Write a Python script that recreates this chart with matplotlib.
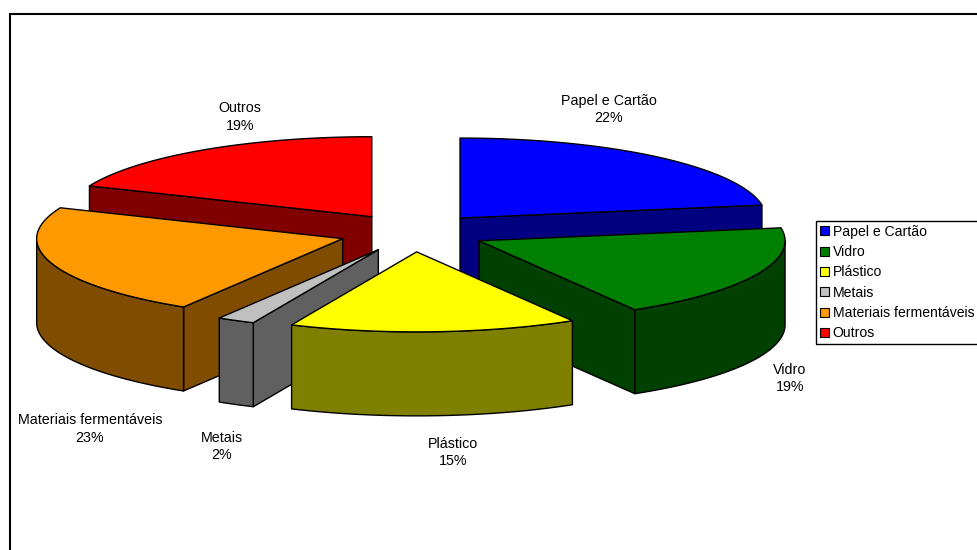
import numpy as np
import matplotlib
matplotlib.use("Agg")
import matplotlib.pyplot as plt
from matplotlib.patches import Polygon, Patch

plt.rcParams['font.family'] = ['Liberation Sans', 'DejaVu Sans']

# --- data ---
categories = ["Papel e Cartão", "Vidro", "Plástico", "Metais", "Materiais fermentáveis", "Outros"]
shares = [22.4, 19.1, 15.2, 2.0, 22.6, 18.7]
pct_labels = ["22%", "19%", "15%", "2%", "23%", "19%"]

# --- styles ---
top_colors = ["#0000FF", "#008000", "#FFFF00", "#C0C0C0", "#FF9900", "#FF0000"]
side_colors = ["#000080", "#004000", "#808000", "#606060", "#804C00", "#800000"]
draw_order = [5, 0, 4, 1, 3, 2]  # back to front
label_pos = [(609, 109.5), (790, 378.5), (453, 452.5), (222, 446.5), (90, 429), (240, 117)]

# --- pie geometry in pixels ---
CX, CY = 412.5, 232.7
RX, RY = 306, 80
DEPTH = 84
EXPLODE = 0.24
FONT = 10.3
LEGEND_FONT = 10.1


def rim(apex, deg):
    # point(s) on the slice rim, angle clockwise from 12 o'clock
    t = np.radians(deg)
    return np.column_stack([apex[0] + RX * np.sin(t), apex[1] - RY * np.cos(t)])


def draw_slice(ax, a, b, top, side):
    mid = np.radians((a + b) / 2)
    apex = np.array([CX + EXPLODE * RX * np.sin(mid), CY - EXPLODE * RY * np.cos(mid)])
    drop = np.array([0, DEPTH])
    kw = dict(edgecolor="black", linewidth=1.0, joinstyle="round")

    # radial walls, only the ones turned towards the viewer
    for ang, normal in ((a, a - 90), (b, b + 90)):
        if np.cos(np.radians(normal)) < -1e-6:
            p = rim(apex, ang)[0]
            ax.add_patch(Polygon([apex, p, p + drop, apex + drop], facecolor=side, **kw))

    # outer wall, front half of the pie only
    lo, hi = max(a, 90), min(b, 270)
    if hi > lo:
        arc = rim(apex, np.linspace(lo, hi, 80))
        ax.add_patch(Polygon(np.vstack([arc, (arc + drop)[::-1]]), facecolor=side, **kw))

    arc = rim(apex, np.linspace(a, b, 80))
    ax.add_patch(Polygon(np.vstack([apex, arc]), facecolor=top, **kw))


fig = plt.figure(figsize=(9.77, 5.5), dpi=100)
ax = fig.add_axes([0, 0, 1, 1])
ax.set_xlim(0, 977)
ax.set_ylim(550, 0)
ax.axis("off")

# outer chart frame, runs off the right and the bottom
ax.plot([9.5, 9.5, 977], [550, 14, 14], color="black", linewidth=1.5, solid_joinstyle="miter")

edges = np.concatenate([[0], np.cumsum(shares)]) / sum(shares) * 360
for i in draw_order:
    draw_slice(ax, edges[i], edges[i + 1], top_colors[i], side_colors[i])

for name, pct, (x, y) in zip(categories, pct_labels, label_pos):
    ax.text(x, y, f"{name}\n{pct}", ha="center", va="center", fontsize=FONT,
            color="black", linespacing=1.35)

handles = [Patch(facecolor=c, edgecolor="black", linewidth=0.8) for c in top_colors]
ax.legend(handles, categories, loc="upper left", bbox_to_anchor=(816, 221),
          bbox_transform=ax.transData, borderaxespad=0, fontsize=LEGEND_FONT,
          fancybox=False, framealpha=1, edgecolor="black", handlelength=0.63,
          handleheight=0.63, handletextpad=0.3, labelspacing=0.45, borderpad=0.27)

fig.savefig("out.png", dpi=100, facecolor="white")
